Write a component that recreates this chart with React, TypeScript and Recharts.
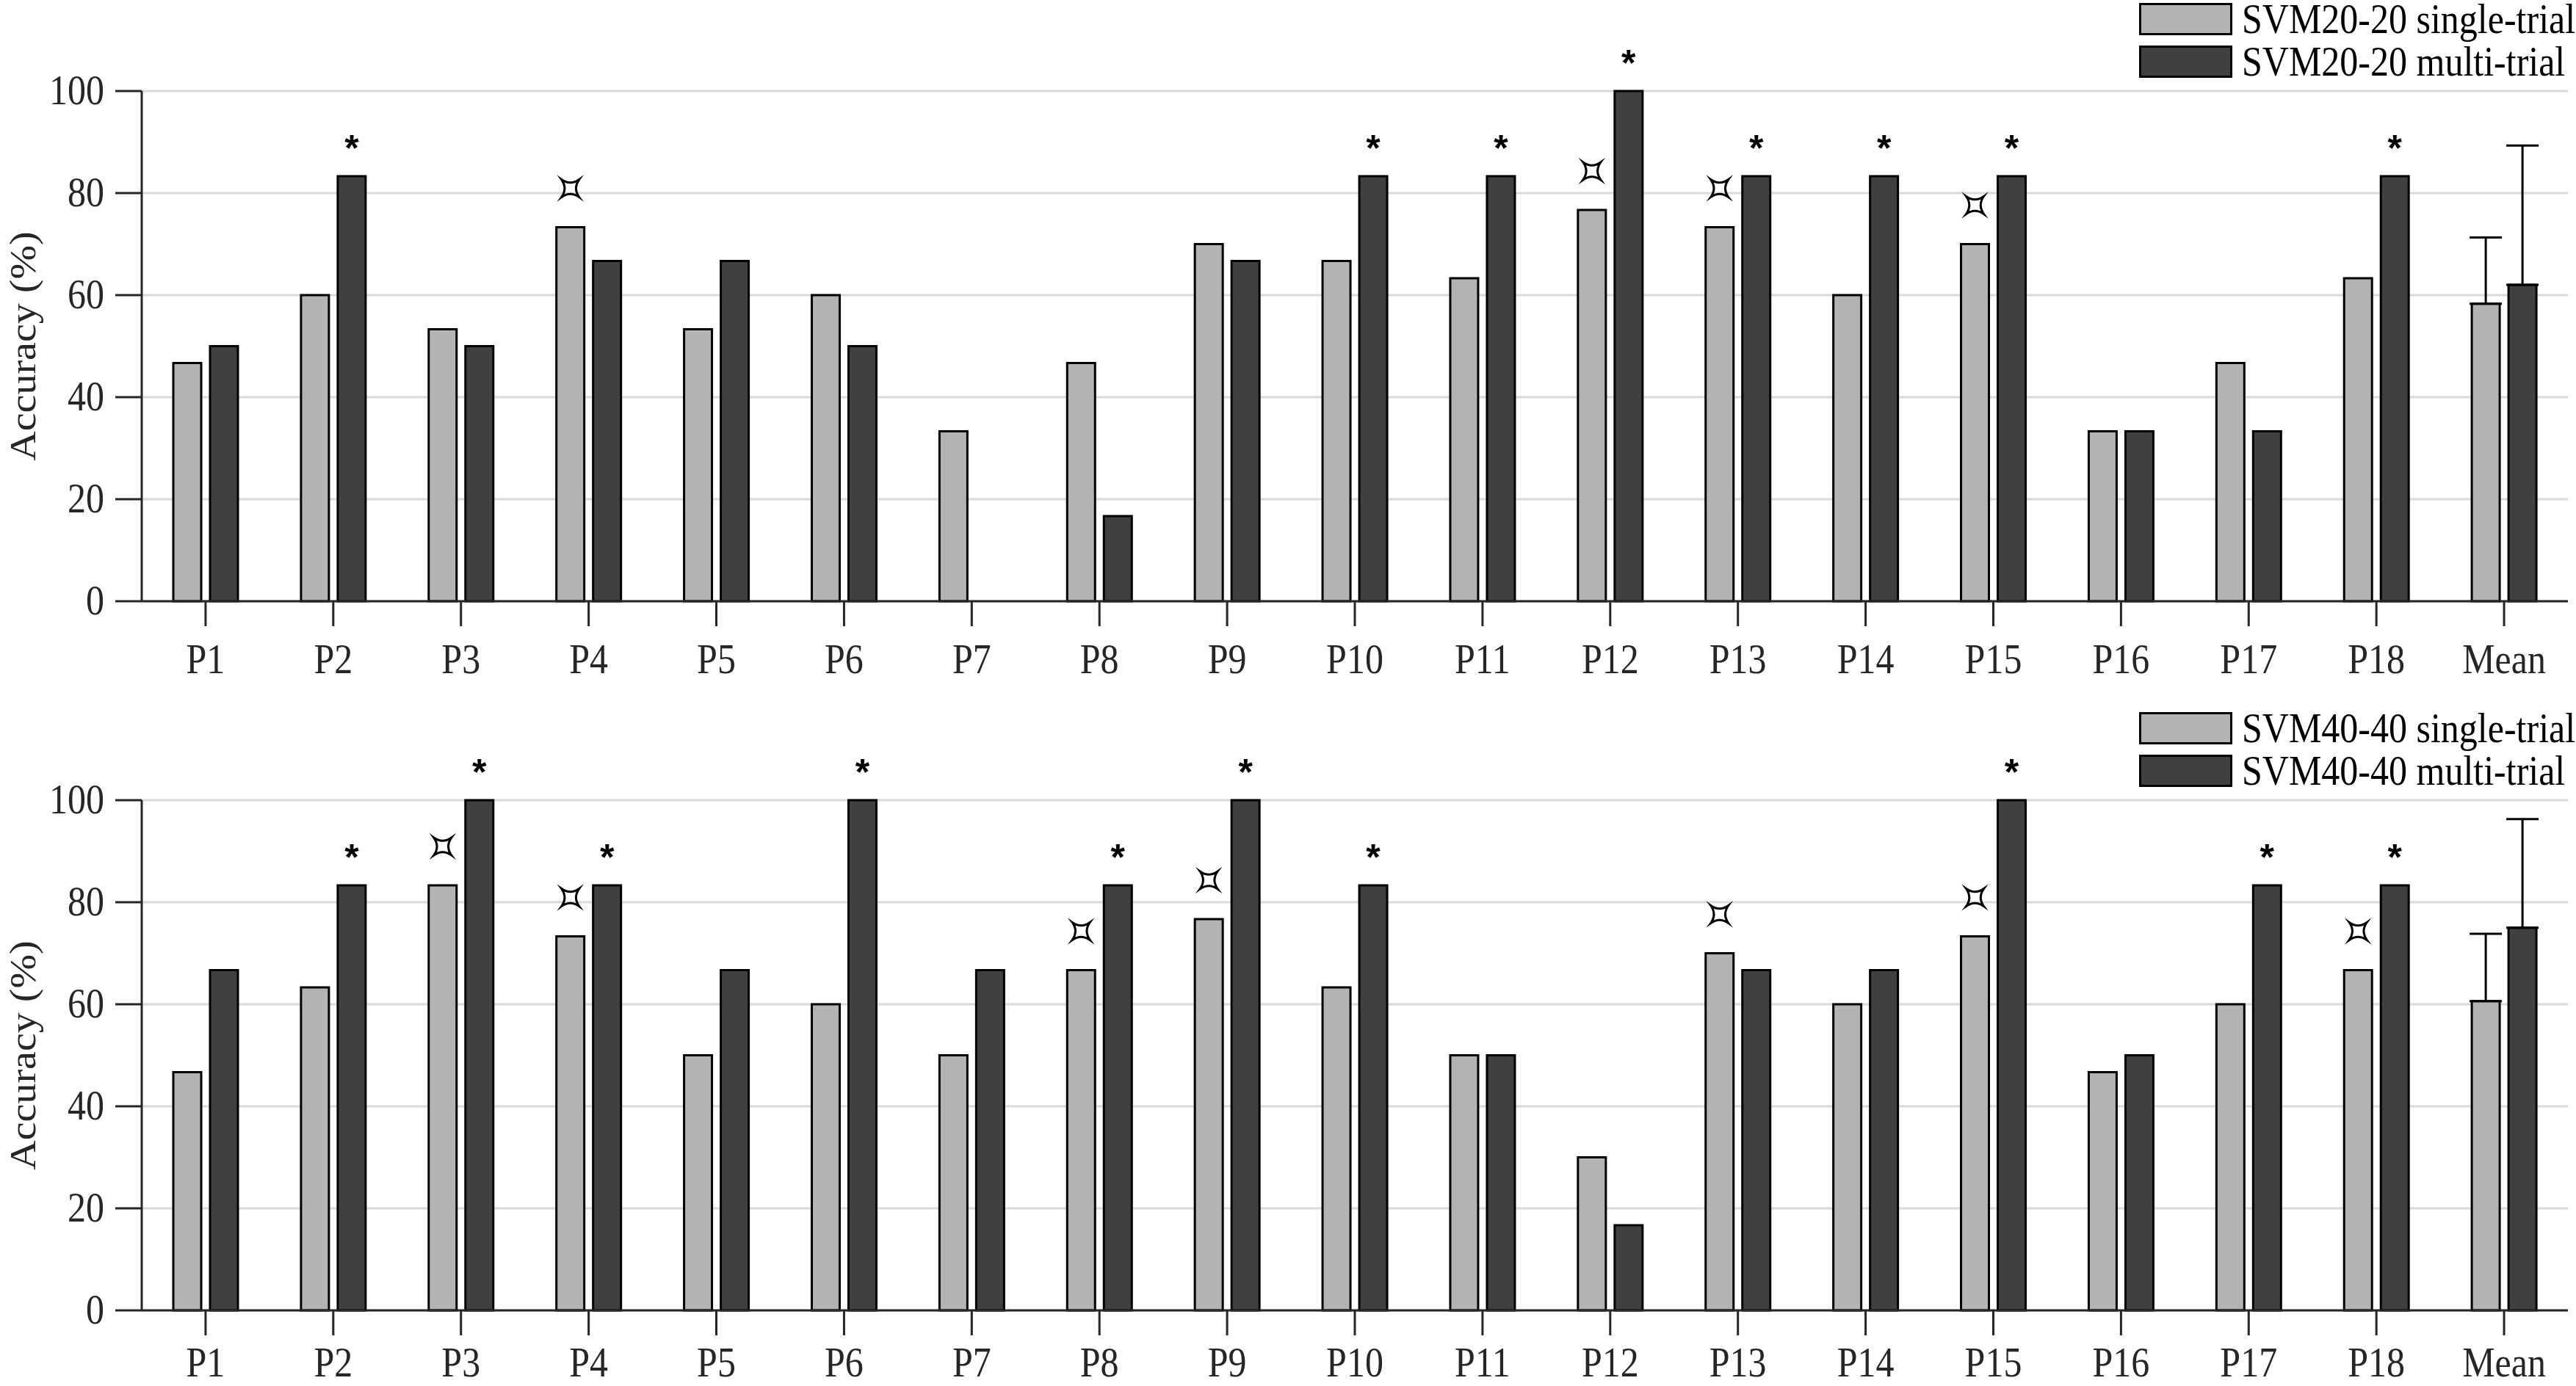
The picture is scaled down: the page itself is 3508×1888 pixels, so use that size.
import {
  Bar,
  BarChart,
  CartesianGrid,
  ErrorBar,
  LabelList,
  Legend,
  XAxis,
  YAxis,
} from 'recharts'

const categories = ['P1', 'P2', 'P3', 'P4', 'P5', 'P6', 'P7', 'P8', 'P9', 'P10', 'P11', 'P12', 'P13', 'P14', 'P15', 'P16', 'P17', 'P18', 'Mean']
const yTicks = [0, 20, 40, 60, 80, 100]

// SVM20-20 panel
const svm20Single = [46.7, 60, 53.3, 73.3, 53.3, 60, 33.3, 46.7, 70, 66.7, 63.3, 76.7, 73.3, 60, 70, 33.3, 46.7, 63.3, 58.3]
const svm20Multi = [50, 83.3, 50, 66.7, 66.7, 50, 0, 16.7, 66.7, 83.3, 83.3, 100, 83.3, 83.3, 83.3, 33.3, 33.3, 83.3, 62.0]
const svm20MeanErr = [13.0, 27.3]
const svm20SingleMarked = ['P4', 'P12', 'P13', 'P15']
const svm20MultiMarked = ['P2', 'P10', 'P11', 'P12', 'P13', 'P14', 'P15', 'P18']

// SVM40-40 panel
const svm40Single = [46.7, 63.3, 83.3, 73.3, 50, 60, 50, 66.7, 76.7, 63.3, 50, 30, 70, 60, 73.3, 46.7, 60, 66.7, 60.6]
const svm40Multi = [66.7, 83.3, 100, 83.3, 66.7, 100, 66.7, 83.3, 100, 83.3, 50, 16.7, 66.7, 66.7, 100, 50, 83.3, 83.3, 75.0]
const svm40MeanErr = [13.2, 21.3]
const svm40SingleMarked = ['P3', 'P4', 'P8', 'P9', 'P13', 'P15', 'P18']
const svm40MultiMarked = ['P2', 'P3', 'P4', 'P6', 'P8', 'P9', 'P10', 'P15', 'P17', 'P18']

const FONT = "'Liberation Serif', 'Times New Roman', serif"
const AXIS = '#262626'
const LIGHT = '#b3b3b3'
const DARK = '#404040'
const PLOT_TOP = 124
const PLOT_H = 695
const XAXIS_H = 90
// the source figure is a little taller than wide, so the glyphs get stretched
const STRETCH = 1.12

function buildRows(single: number[], multi: number[], meanErr: number[], singleMarked: string[], multiMarked: string[]) {
  const last = categories.length - 1
  return categories.map((name, i) => ({
    name,
    single: single[i],
    multi: multi[i],
    errSingle: i === last ? [0, meanErr[0]] : null,
    errMulti: i === last ? [0, meanErr[1]] : null,
    sigSingle: singleMarked.includes(name) ? 1 : 0,
    sigMulti: multiMarked.includes(name) ? 1 : 0,
  }))
}

const XTick = (props: any) => (
  <text
    transform={`translate(${props.x},${props.y + 36}) scale(1,${STRETCH})`}
    textAnchor="middle"
    fill={AXIS}
    fontSize={50}
    fontFamily={FONT}
  >
    {props.payload.value}
  </text>
)

const YTick = (props: any) => (
  <text
    transform={`translate(${props.x},${props.y + 18}) scale(1,${STRETCH})`}
    textAnchor="end"
    fill={AXIS}
    fontSize={50}
    fontFamily={FONT}
  >
    {props.payload.value}
  </text>
)

const YLabel = (props: any) => {
  const vb = props.viewBox
  const cy = vb.y + vb.height / 2
  return (
    <text
      transform={`translate(31,${cy}) scale(1,${STRETCH}) rotate(-90)`}
      y={17}
      textAnchor="middle"
      fill={AXIS}
      fontSize={50}
      fontFamily={FONT}
    >
      Accuracy (%)
    </text>
  )
}

function barTop(props: any) {
  const vb = props.viewBox || props
  return { cx: vb.x + vb.width / 2, top: Math.min(vb.y, vb.y + vb.height) }
}

const renderStar = (props: any) => {
  if (!props.value) return null
  const { cx, top } = barTop(props)
  return (
    <text x={cx} y={top - 21} textAnchor="middle" fontFamily="'Liberation Sans', Arial, sans-serif" fontWeight={700} fontSize={50} fill="#000">
      *
    </text>
  )
}

const renderCurrency = (props: any) => {
  if (!props.value) return null
  const { cx, top } = barTop(props)
  return (
    <path
      transform={`translate(${cx},${top - 53})`}
      d="M-12,-12 Q0,-3.5 12,-12 Q3.5,0 12,12 Q0,3.5 -12,12 Q-3.5,0 -12,-12 Z"
      fill="none"
      stroke="#000"
      strokeWidth={3}
      strokeMiterlimit={6}
    />
  )
}

function makeLegend(names: string[]) {
  const colors = [LIGHT, DARK]
  return () => (
    <div style={{ fontFamily: FONT }}>
      {names.map((n, i) => (
        <div key={n} style={{ display: 'flex', alignItems: 'center', height: 44, marginBottom: 14 }}>
          <div style={{ width: 127, height: 44, boxSizing: 'border-box', border: '3px solid #000', background: colors[i] }} />
          <span
            style={{
              display: 'inline-block',
              marginLeft: 13,
              fontSize: 50,
              lineHeight: '44px',
              color: '#000',
              whiteSpace: 'nowrap',
              transform: `scaleY(${STRETCH})`,
            }}
          >
            {n}
          </span>
        </div>
      ))}
    </div>
  )
}

interface PanelProps {
  height: number
  rows: ReturnType<typeof buildRows>
  names: string[]
  xTickMargin: number
}

function Panel({ height, rows, names, xTickMargin }: PanelProps) {
  return (
    <BarChart
      width={3508}
      height={height}
      data={rows}
      margin={{ top: PLOT_TOP, right: 11, left: 0, bottom: height - PLOT_TOP - PLOT_H - XAXIS_H }}
      barSize={38}
      barGap={12}
    >
      <CartesianGrid vertical={false} stroke="#d9d9d9" strokeWidth={3} />
      <XAxis
        dataKey="name"
        interval={0}
        height={XAXIS_H}
        tickSize={34}
        tickMargin={xTickMargin}
        axisLine={{ stroke: AXIS, strokeWidth: 3 }}
        tickLine={{ stroke: AXIS, strokeWidth: 3 }}
        tick={<XTick />}
      />
      <YAxis
        domain={[0, 100]}
        ticks={yTicks}
        width={193}
        tickSize={36}
        tickMargin={15}
        axisLine={{ stroke: AXIS, strokeWidth: 3 }}
        tickLine={{ stroke: AXIS, strokeWidth: 3 }}
        tick={<YTick />}
        label={{ value: 'Accuracy (%)', position: 'insideLeft', content: YLabel }}
      />
      <Legend
        layout="vertical"
        align="center"
        verticalAlign="middle"
        wrapperStyle={{ top: 4, left: 2913, width: 'auto', height: 'auto' }}
        content={makeLegend(names)}
      />
      <Bar dataKey="single" name={names[0]} fill={LIGHT} stroke="#000" strokeWidth={3} isAnimationActive={false}>
        <ErrorBar dataKey="errSingle" direction="y" width={22} stroke="#000" strokeWidth={3} />
        <LabelList dataKey="sigSingle" content={renderCurrency} />
      </Bar>
      <Bar dataKey="multi" name={names[1]} fill={DARK} stroke="#000" strokeWidth={3} isAnimationActive={false}>
        <ErrorBar dataKey="errMulti" direction="y" width={22} stroke="#000" strokeWidth={3} />
        <LabelList dataKey="sigMulti" content={renderStar} />
      </Bar>
    </BarChart>
  )
}

export default function App() {
  const top = buildRows(svm20Single, svm20Multi, svm20MeanErr, svm20SingleMarked, svm20MultiMarked)
  const bottom = buildRows(svm40Single, svm40Multi, svm40MeanErr, svm40SingleMarked, svm40MultiMarked)
  return (
    <div style={{ width: 3508, height: 1888, background: '#fff', fontFamily: FONT }}>
      <style>{'body{margin:0}'}</style>
      <Panel height={966} rows={top} names={['SVM20-20 single-trial', 'SVM20-20 multi-trial']} xTickMargin={28} />
      <Panel height={922} rows={bottom} names={['SVM40-40 single-trial', 'SVM40-40 multi-trial']} xTickMargin={20} />
    </div>
  )
}
